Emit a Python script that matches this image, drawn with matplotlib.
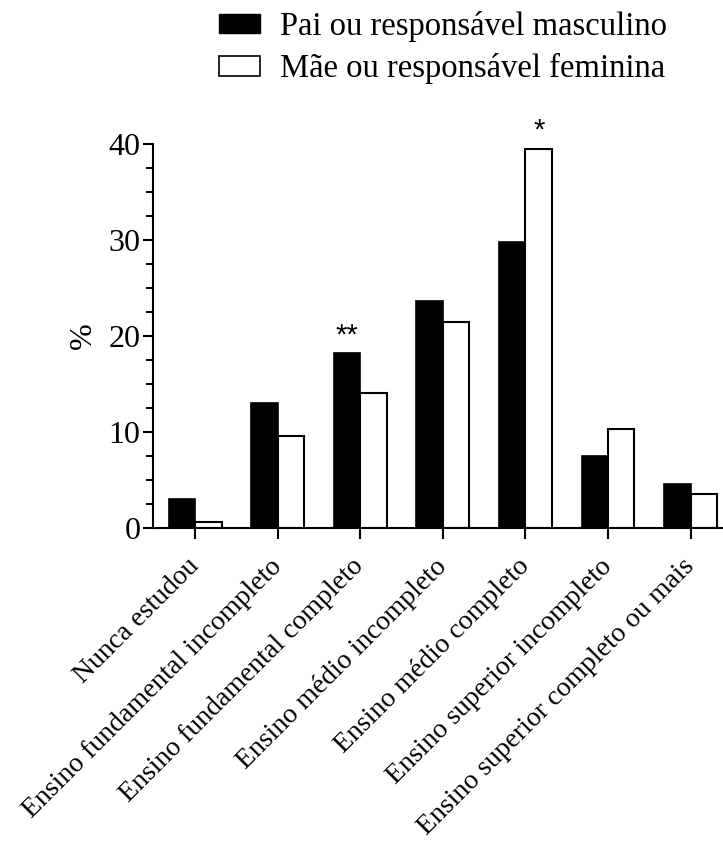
import numpy as np
import matplotlib
matplotlib.use("Agg")
import matplotlib.pyplot as plt
from matplotlib.patches import Patch
from matplotlib.ticker import MultipleLocator

plt.rcParams['font.family'] = ['Liberation Serif', 'DejaVu Serif']

categorias = ["Nunca estudou",
              "Ensino fundamental incompleto",
              "Ensino fundamental completo",
              "Ensino médio incompleto",
              "Ensino médio completo",
              "Ensino superior incompleto",
              "Ensino superior completo ou mais"]
pai = [3.0, 13.0, 18.2, 23.6, 29.8, 7.5, 4.6]
mae = [0.6, 9.6, 14.1, 21.5, 39.5, 10.3, 3.5]
# significance marks: (category index, series, text)
marcas = [(2, "pai", "**"), (4, "mae", "*")]

fig = plt.figure(figsize=(7.23, 8.44), dpi=100)
ax = fig.add_axes([153 / 723, 316 / 844, 569 / 723, 384 / 844])

x = np.arange(len(categorias))
w = 0.32
ax.bar(x - w / 2, pai, w, color="black", edgecolor="black", linewidth=1.2)
ax.bar(x + w / 2, mae, w, color="white", edgecolor="black", linewidth=1.5)

for i, serie, txt in marcas:
    if serie == "pai":
        ax.text(i - w / 2, pai[i] + 0.4, txt, ha="center", va="bottom",
                fontsize=21, family="Liberation Sans")
    else:
        ax.text(i + w / 2, mae[i] + 0.4, txt, ha="center", va="bottom",
                fontsize=21, family="Liberation Sans")

ax.set_xlim(-0.51, 6.38)
ax.set_ylim(0, 40)
ax.yaxis.set_major_locator(MultipleLocator(10))
ax.yaxis.set_minor_locator(MultipleLocator(2.5))
ax.set_xticks(x)
ax.set_xticklabels(categorias, rotation=45, ha="right", va="center",
                   rotation_mode="anchor", fontsize=20)
ax.tick_params(axis="x", length=8, width=1.5, pad=17)
ax.tick_params(axis="y", which="major", length=7, width=1.5, labelsize=23, pad=2)
ax.tick_params(axis="y", which="minor", length=5, width=1.5)
ax.set_ylabel("%", fontsize=23, labelpad=8)

for s in ["top", "right"]:
    ax.spines[s].set_visible(False)
for s in ["left", "bottom"]:
    ax.spines[s].set_linewidth(1.5)

handles = [Patch(facecolor="black", edgecolor="black"),
           Patch(facecolor="white", edgecolor="black", linewidth=1.2)]
fig.legend(handles, ["Pai ou responsável masculino", "Mãe ou responsável feminina"],
           loc="upper left", bbox_to_anchor=(219 / 723, 1 - 11 / 844), frameon=False,
           fontsize=23.5, handlelength=1.26, handleheight=0.55, handletextpad=0.6,
           labelspacing=0.35, borderpad=0, borderaxespad=0)

fig.savefig("out.png", dpi=100)
